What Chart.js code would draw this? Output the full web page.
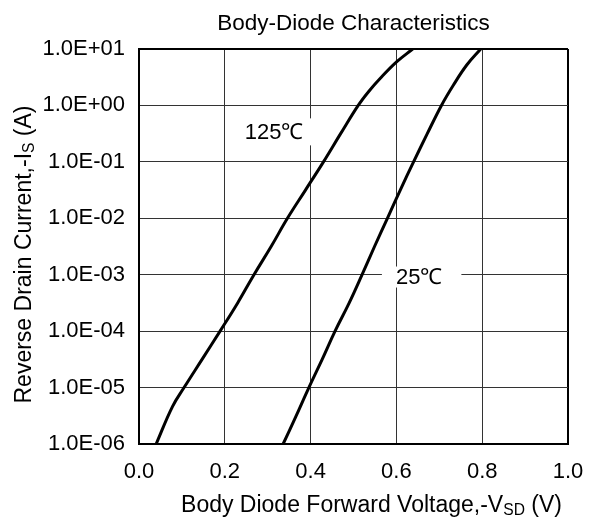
<!DOCTYPE html>
<html>
<head>
<meta charset="utf-8">
<script src="https://cdn.jsdelivr.net/npm/chart.js@4"></script>
<style>
html,body{margin:0;padding:0;background:#fff;}
#wrap{width:601px;height:518px;}
</style>
</head>
<body>
<div id="wrap"><canvas id="c" width="601" height="518"></canvas></div>
<script>
// ---- data ----
const volt125 = [0.040, 0.078, 0.105, 0.147, 0.189, 0.230, 0.268, 0.308, 0.346, 0.388, 0.430, 0.470, 0.511, 0.535, 0.562, 0.601, 0.638];
const curr125 = [1e-6, 4.6e-6, 1e-5, 3.16e-5, 1e-4, 3.16e-4, 1e-3, 3.16e-3, 1e-2, 3.16e-2, 0.1, 0.316, 1.0, 1.75, 3.0, 5.96, 10];
const volt25  = [0.336, 0.365, 0.396, 0.427, 0.457, 0.490, 0.520, 0.549, 0.579, 0.609, 0.640, 0.672, 0.705, 0.733, 0.764, 0.7965];
const curr25  = [1e-6, 3.0e-6, 1e-5, 3.16e-5, 1e-4, 3.16e-4, 1e-3, 3.16e-3, 1e-2, 3.16e-2, 0.1, 0.316, 1.0, 2.3, 5.2, 10];
const xTicks = [0, 0.2, 0.4, 0.6, 0.8, 1.0];
const xTickLabels = ["0.0", "0.2", "0.4", "0.6", "0.8", "1.0"];
const yTicks = [1e-6, 1e-5, 1e-4, 1e-3, 1e-2, 1e-1, 1e0, 1e1];
const yTickLabels = ["1.0E-06", "1.0E-05", "1.0E-04", "1.0E-03", "1.0E-02", "1.0E-01", "1.0E+00", "1.0E+01"];
const seriesNames = ["125℃", "25℃"];
const labelAt = [{x: 0.315, y: 0.34}, {x: 0.653, y: 9.1e-4}];
const titleText = "Body-Diode Characteristics";
const xTitleParts = [{t: "Body Diode Forward Voltage,-V"}, {t: "SD", sub: true}, {t: " (V)"}];
const yTitleParts = [{t: "Reverse Drain Current,-I"}, {t: "S", sub: true}, {t: " (A)"}];

const FONT = "'Liberation Sans', Arial, sans-serif";

function toPts(xs, ys) { return xs.map((x, i) => ({x: x, y: ys[i]})); }

function richWidth(ctx, parts, size) {
  let w = 0;
  parts.forEach(p => { ctx.font = (p.sub ? size * 0.68 : size) + "px " + FONT; w += ctx.measureText(p.t).width; });
  return w;
}
function drawRich(ctx, parts, cx, cy, size) {
  const w = richWidth(ctx, parts, size);
  let x = cx - w / 2;
  ctx.textAlign = "left";
  ctx.textBaseline = "alphabetic";
  const base = cy + size * 0.36;
  parts.forEach(p => {
    const s = p.sub ? size * 0.68 : size;
    ctx.font = s + "px " + FONT;
    ctx.fillText(p.t, x, p.sub ? base + size * 0.12 : base);
    x += ctx.measureText(p.t).width;
  });
}

const annot = {
  id: "annot",
  beforeDatasetsDraw(chart) {
    const ctx = chart.ctx, xs = chart.scales.x, ys = chart.scales.y;
    ctx.save();
    seriesNames.forEach((name, i) => {
      const px = xs.getPixelForValue(labelAt[i].x);
      const py = ys.getPixelForValue(labelAt[i].y);
      ctx.font = "22px " + FONT;
      const w = ctx.measureText(name).width;
      const padL = 14, padR = i === 0 ? 10 : 19, h = i === 0 ? 27 : 21;
      ctx.fillStyle = "#fff";
      ctx.fillRect(px - w / 2 - padL, py - h / 2, w + padL + padR, h);
      ctx.fillStyle = "#000";
      ctx.textAlign = "center";
      ctx.textBaseline = "middle";
      ctx.fillText(name, px, py + 1);
    });
    ctx.restore();
  },
  afterDraw(chart) {
    const ctx = chart.ctx, a = chart.chartArea;
    ctx.save();
    ctx.fillStyle = "#000";
    ctx.font = "22.5px " + FONT;
    ctx.textAlign = "center";
    ctx.textBaseline = "middle";
    ctx.fillText(titleText, (a.left + a.right) / 2, 24);
    drawRich(ctx, xTitleParts, (a.left + a.right) / 2 + 18, 504, 23);
    ctx.translate(23, (a.top + a.bottom) / 2 + 8);
    ctx.rotate(-Math.PI / 2);
    drawRich(ctx, yTitleParts, 0, 0, 23);
    ctx.restore();
  }
};

new Chart(document.getElementById("c"), {
  type: "line",
  data: {
    datasets: [
      {label: seriesNames[0], data: toPts(volt125, curr125), borderColor: "#000", borderWidth: 3, pointRadius: 0, tension: 0.4, fill: false},
      {label: seriesNames[1], data: toPts(volt25, curr25), borderColor: "#000", borderWidth: 3, pointRadius: 0, tension: 0.4, fill: false}
    ]
  },
  options: {
    responsive: false,
    animation: false,
    devicePixelRatio: 1,
    layout: {padding: {left: 0, right: 33, top: 49, bottom: 0}},
    plugins: {
      legend: {display: false},
      tooltip: {enabled: false},
      title: {display: false}
    },
    scales: {
      x: {
        type: "linear", min: 0, max: 1,
        afterBuildTicks(s) { s.ticks = xTicks.map(v => ({value: v})); },
        afterFit(s) { s.height = 74; },
        ticks: {color: "#000", font: {family: FONT, size: 22}, padding: 15, maxRotation: 0,
          callback: (v) => { const i = xTicks.findIndex(t => Math.abs(t - v) < 1e-9); return i >= 0 ? xTickLabels[i] : ""; }},
        grid: {drawTicks: false, color: (c) => (c.index === xTicks.length - 1 ? "#000" : "#333"), lineWidth: (c) => (c.index === xTicks.length - 1 ? 2 : 1)},
        border: {display: true, color: "#000", width: 2}
      },
      y: {
        type: "logarithmic", min: 1e-6, max: 10,
        afterBuildTicks(s) { s.ticks = yTicks.map(v => ({value: v})); },
        afterFit(s) { s.width = 139; },
        ticks: {color: "#000", font: {family: FONT, size: 22}, padding: 14,
          callback: function (v) { const i = yTicks.findIndex(t => Math.abs(Math.log10(t) - Math.log10(v)) < 1e-6); return i >= 0 ? yTickLabels[i] : ""; }},
        grid: {drawTicks: false, color: (c) => (c.index === yTicks.length - 1 ? "#000" : "#333"), lineWidth: (c) => (c.index === yTicks.length - 1 ? 2 : 1)},
        border: {display: true, color: "#000", width: 2}
      }
    }
  },
  plugins: [annot]
});
</script>
</body>
</html>
